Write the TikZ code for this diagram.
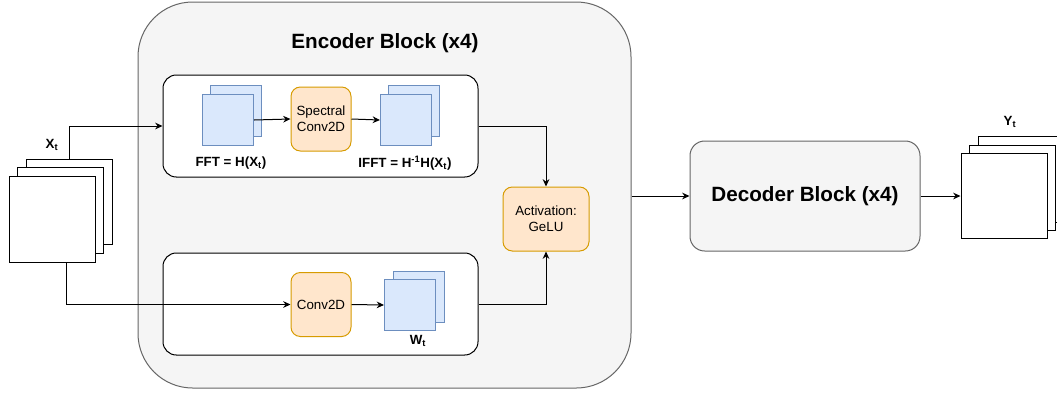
\documentclass[tikz,border=0pt]{standalone}
\usepackage{fontspec}
\setmainfont{Liberation Sans}
\usetikzlibrary{shapes,arrows.meta,positioning,calc}

\definecolor{bggray}{HTML}{F5F5F5}
\definecolor{edgegray}{HTML}{666666}
\definecolor{mapfill}{HTML}{DAE8FC}
\definecolor{mapedge}{HTML}{6C8EBF}
\definecolor{opfill}{HTML}{FFE6CC}
\definecolor{opedge}{HTML}{D79B00}

\newcommand{\smallfont}{\fontsize{10pt}{12pt}\selectfont}
\newcommand{\bigfont}{\fontsize{15.5pt}{18pt}\selectfont\bfseries}

\tikzstyle{outer} = [draw=edgegray, fill=bggray, rectangle, rounded corners=41pt, minimum width=369.75pt, minimum height=289.5pt]
\tikzstyle{inner} = [draw=black, fill=white, rectangle, rounded corners=10pt, minimum width=236.25pt, minimum height=76.5pt]
\tikzstyle{op} = [draw=opedge, fill=opfill, rectangle, rounded corners=7pt, minimum width=45pt, minimum height=48pt, align=center, font=\smallfont]
\tikzstyle{map} = [draw=mapedge, fill=mapfill, rectangle, minimum size=38.25pt, inner sep=0pt]
\tikzstyle{sheet} = [draw=black, fill=white, rectangle, minimum width=64.5pt, minimum height=64pt, inner sep=0pt]
\tikzstyle{decoder} = [draw=edgegray, fill=bggray, rectangle, rounded corners=11pt, minimum width=172.5pt, minimum height=82.5pt, font=\bigfont]
\tikzstyle{caption} = [font=\smallfont\bfseries, inner sep=0pt]

\begin{document}
\begin{tikzpicture}[x=0.75pt, y=-0.75pt, line width=0.75pt, >={Stealth[length=5.5pt,width=5pt]}]
    \useasboundingbox (0,0) rectangle (1057,394);

    % Encoder
    \node [outer] (enc) at (384.5,195) {};
    \node [font=\bigfont] (enctitle) at (385,43) {Encoder Block (x4)};
    \node [inner] (fourier) at (320.5,126) {};
    \node [inner] (local) at (320.5,304) {};

    % Spectral path
    \node [op] (spec) at (321,119) {Spectral\\Conv2D};
    \node [map] (fftb) at (236,111) {};
    \node [map] (fft) at ($(fftb)+(-8,9)$) {};
    \node [map] (ifftb) at (414,111) {};
    \node [map] (ifft) at ($(ifftb)+(-8,9)$) {};
    \node [caption] (fftlabel) at (231,163) {FFT = H(X\textsubscript{t})};
    \node [caption] (ifftlabel) at (405,163) {IFFT = H\textsuperscript{-1}H(X\textsubscript{t})};

    % Local path
    \node [op] (conv) at (321,304.5) {Conv2D};
    \node [map] (wb) at (418.5,296.5) {};
    \node [map] (w) at ($(wb)+(-8.5,8.5)$) {};
    \node [caption] (wlabel) at (418,341) {W\textsubscript{t}};

    \node [op, minimum width=64.5pt] (act) at (546,219) {Activation:\\GeLU};

    % Input
    \node [sheet] (inb) at (69.5,202) {};
    \node [sheet] (inm) at (60.5,210.5) {};
    \node [sheet] (inf) at (52,219.5) {};
    \node [caption] (xlabel) at (52,145) {X\textsubscript{t}};

    % Decoder and output
    \node [decoder] (dec) at (805,196) {Decoder Block (x4)};
    \node [sheet] (outb) at (1021,179.5) {};
    \node [sheet] (outm) at (1012.5,188) {};
    \node [sheet] (outf) at (1004,196) {};
    \node [caption] (ylabel) at (1010,122) {Y\textsubscript{t}};

    % Connections
    \draw [->] (inb.north) |- (fourier.west);
    \draw [->] ([xshift=10.5pt]inf.south) |- (conv.west);
    \draw [->] (fft.east) -- (spec.west);
    \draw [->] (spec.east) -- (ifft.west);
    \draw [->] (conv.east) -- (w.west);
    \draw [->] (fourier.east) -| (act.north);
    \draw [->] (local.east) -| (act.south);
    \draw [->] (enc.east |- dec.west) -- (dec.west);
    \draw [->] (dec.east) -- (outf.west);
\end{tikzpicture}
\end{document}
